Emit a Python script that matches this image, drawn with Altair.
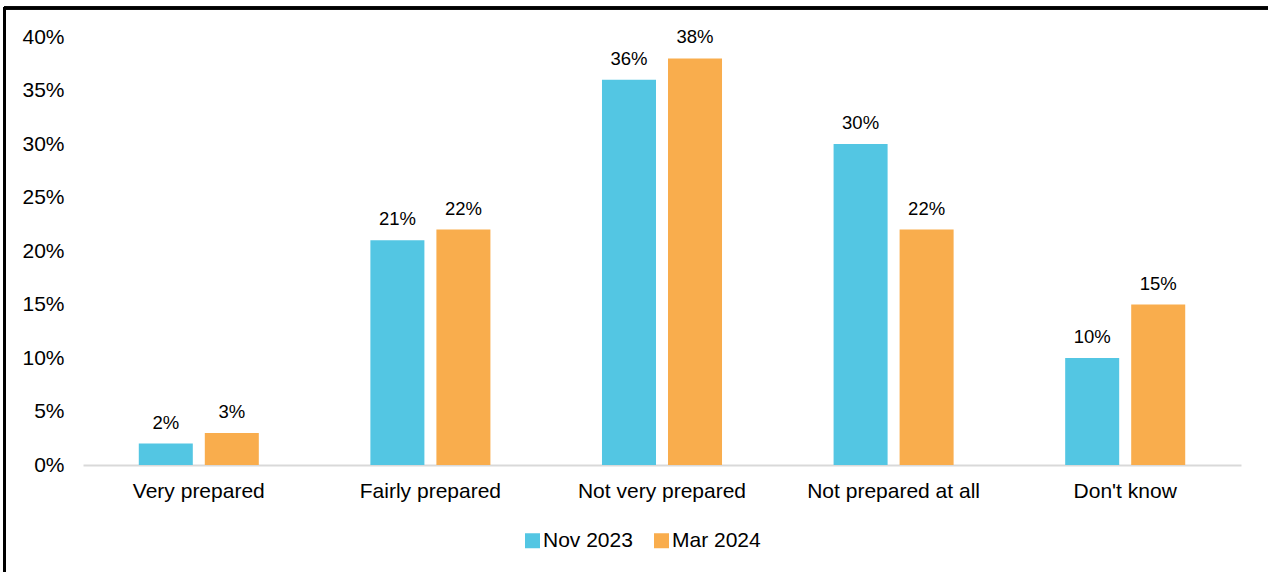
import altair as alt
import pandas as pd

categories = ["Very prepared", "Fairly prepared", "Not very prepared", "Not prepared at all", "Don't know"]
series = ["Nov 2023", "Mar 2024"]
nov_2023 = [2, 21, 36, 30, 10]
mar_2024 = [3, 22, 38, 22, 15]
colors = ["#53C6E3", "#F9AD4D"]

rows = []
for c, v in zip(categories, nov_2023):
    rows.append({"category": c, "series": "Nov 2023", "value": v / 100})
for c, v in zip(categories, mar_2024):
    rows.append({"category": c, "series": "Mar 2024", "value": v / 100})
df = pd.DataFrame(rows)

FONT = "Liberation Sans"

x = alt.X("category:N", sort=categories, title=None,
          scale=alt.Scale(paddingInner=0, paddingOuter=0),
          axis=alt.Axis(labelAngle=0, labelFontSize=21, labelFont=FONT, labelColor="#000000",
                        domainColor="#d9d9d9", domainWidth=2, ticks=False, labelPadding=15))
xoff = alt.XOffset("series:N", sort=series,
                   scale=alt.Scale(paddingInner=0.1818, paddingOuter=0.845))
y = alt.Y("value:Q", title=None,
          scale=alt.Scale(domain=[0, 0.4], nice=False),
          axis=alt.Axis(format=".0%", values=[0, 0.05, 0.1, 0.15, 0.2, 0.25, 0.3, 0.35, 0.4],
                        labelFontSize=21, labelFont=FONT, labelColor="#000000",
                        domain=False, ticks=False, grid=False, labelPadding=19))
color = alt.Color("series:N", sort=series,
                  scale=alt.Scale(domain=series, range=colors),
                  legend=alt.Legend(title=None, orient="none", direction="horizontal",
                                    legendX=439, legendY=493, symbolType="square",
                                    symbolSize=225, symbolStrokeWidth=0, symbolOpacity=1,
                                    labelFontSize=21, labelFont=FONT, labelColor="#000000",
                                    labelOffset=0, columnPadding=18))

base = alt.Chart(df)
bars = base.mark_bar().encode(x=x, xOffset=xoff, y=y, color=color)
labels = base.mark_text(baseline="bottom", dy=-11, fontSize=18.5, font=FONT, color="#000000").encode(
    x=x, xOffset=xoff, y=y, text=alt.Text("value:Q", format=".0%"))

border_top = alt.Chart(df).mark_rule(color="#000000", strokeWidth=2.5).encode(
    x=alt.value(-79), x2=alt.value(1200), y=alt.value(-29))
border_left = alt.Chart(df).mark_rule(color="#000000", strokeWidth=2.5).encode(
    x=alt.value(-78.5), y=alt.value(-30), y2=alt.value(560))

chart = alt.layer(bars, labels, border_top, border_left).properties(
    width=1158, height=428,
    padding={"left": 83, "top": 37, "right": 27, "bottom": 107},
    autosize=alt.AutoSizeParams(type="none"),
    background="#ffffff",
).configure_view(stroke=None)

chart.save("out.html", embed_options={"renderer": "svg", "actions": False})
